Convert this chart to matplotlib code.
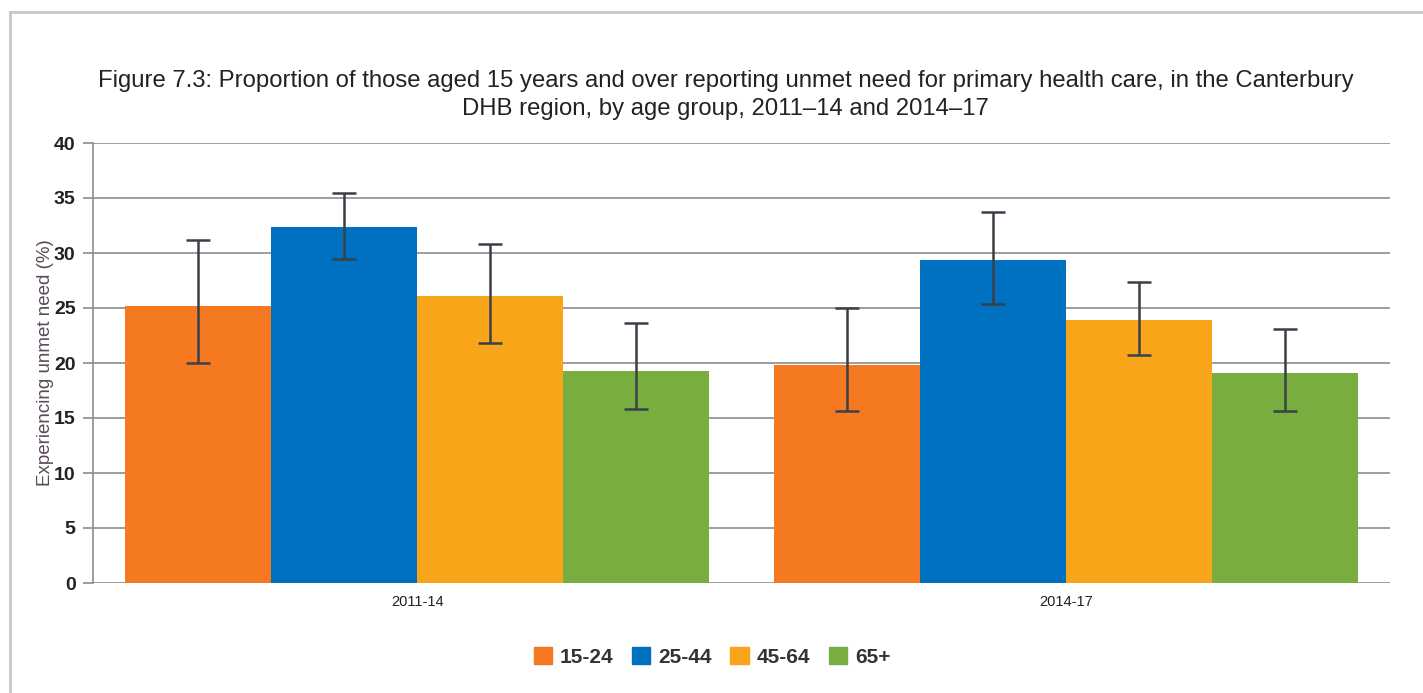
#!/usr/bin/env python3
"""Figure 7.3 — unmet need for primary health care, Canterbury DHB, by age group."""

import matplotlib
matplotlib.use("Agg")
import matplotlib.pyplot as plt
from matplotlib.lines import Line2D
from matplotlib.patches import Patch
import numpy as np

# =============================================================================
# DATA
# =============================================================================
periods    = ["2011-14", "2014-17"]
age_groups = ["15-24", "25-44", "45-64", "65+"]

values = {
    "15-24": [25.2, 19.85],
    "25-44": [32.4, 29.4],
    "45-64": [26.1, 23.9],
    "65+":   [19.3, 19.05],
}
ci_low = {
    "15-24": [20.0, 15.6],
    "25-44": [29.5, 25.35],
    "45-64": [21.8, 20.7],
    "65+":   [15.8, 15.6],
}
ci_high = {
    "15-24": [31.2, 25.0],
    "25-44": [35.5, 33.7],
    "45-64": [30.8, 27.4],
    "65+":   [23.6, 23.05],
}

COLORS = {
    "15-24": "#F47920",
    "25-44": "#0070C0",
    "45-64": "#F9A51A",
    "65+":   "#78AD3F",
}
ERR_COLOR  = "#3B3F47"
GRID_COLOR = "#8C8C8C"

plt.rcParams["font.family"] = ["Liberation Sans", "DejaVu Sans"]

# =============================================================================
# PLOT
# =============================================================================
W, H = 1423, 693
fig = plt.figure(figsize=(W / 100, H / 100), dpi=100)
ax = fig.add_axes([93 / W, 1 - 583 / H, (1390 - 93) / W, (583 - 143) / H])

x = np.arange(len(periods))
n = len(age_groups)
width = 0.9 / n

for i, grp in enumerate(age_groups):
    pos  = x - 0.45 + width * (i + 0.5)
    vals = np.array(values[grp])
    lo   = vals - np.array(ci_low[grp])
    hi   = np.array(ci_high[grp]) - vals
    ax.bar(pos, vals, width=width, color=COLORS[grp], zorder=2, linewidth=0)
    ax.errorbar(pos, vals, yerr=[lo, hi], fmt="none", ecolor=ERR_COLOR,
                elinewidth=1.8, capsize=8.6, capthick=1.8, zorder=3)

ax.set_xlim(-0.5, 1.5)
ax.set_ylim(0, 40)
ax.set_yticks(range(0, 41, 5))
ax.set_xticks(x)
ax.set_xticklabels(periods, fontsize=10.5, color="#222222")
ax.tick_params(axis="x", length=0, pad=9)
ax.tick_params(axis="y", length=7, width=1.2, color=GRID_COLOR,
               labelsize=14, labelcolor="#222222", pad=5.5)
for lbl in ax.get_yticklabels():
    lbl.set_fontweight("bold")

ax.grid(axis="y", color=GRID_COLOR, linewidth=1.2, zorder=0)
ax.set_axisbelow(True)
for side in ["top", "right", "bottom"]:
    ax.spines[side].set_visible(False)
ax.spines["left"].set_color(GRID_COLOR)
ax.spines["left"].set_linewidth(1.2)

ax.set_ylabel("Experiencing unmet need (%)", fontsize=13.5, color="#5A4A5A",
              labelpad=0)

fig.text(0.510, 1 - 95 / H,
         "Figure 7.3: Proportion of those aged 15 years and over reporting unmet need "
         "for primary health care, in the Canterbury\n"
         "DHB region, by age group, 2011\u201314 and 2014\u201317",
         ha="center", va="center", fontsize=17.2, color="#222222", linespacing=1.35)

handles = [Patch(color=COLORS[g], label=g) for g in age_groups]
fig.legend(handles=handles, loc="center", bbox_to_anchor=(712 / W, 1 - 657 / H),
           ncol=4, frameon=False, handlelength=0.87, handleheight=0.87,
           handletextpad=0.38, columnspacing=0.9, borderpad=0,
           prop={"size": 15, "weight": "bold"}, labelcolor="#333333")

# page frame
fig.add_artist(Line2D([10 / W, 1], [1 - 12 / H, 1 - 12 / H],
                      color="#C8C8C8", linewidth=2))
fig.add_artist(Line2D([10 / W, 10 / W], [0, 1 - 12 / H],
                      color="#C8C8C8", linewidth=2))

fig.savefig("out.png", dpi=100)
